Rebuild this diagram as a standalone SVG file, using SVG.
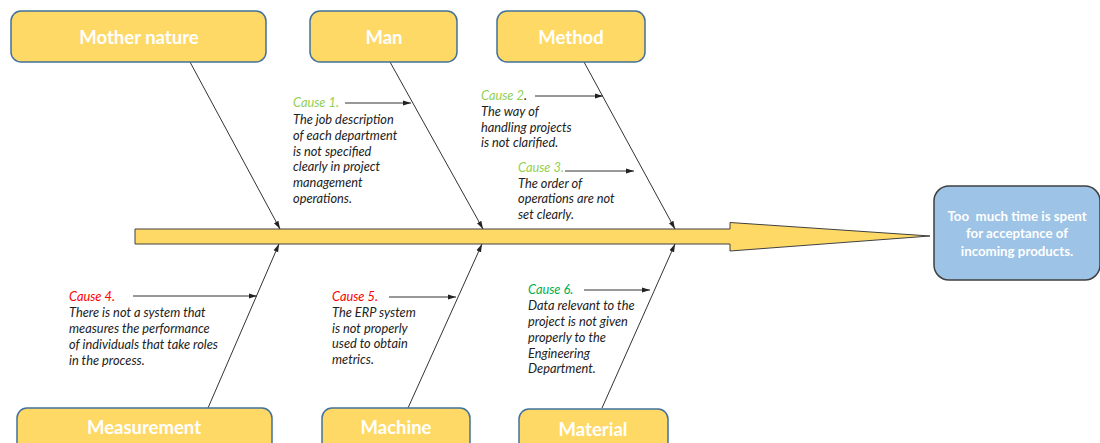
<svg xmlns="http://www.w3.org/2000/svg" width="1100" height="443" viewBox="0 0 1100 443">
<defs>
<style>
.cat{fill:#FFD966;stroke:#41719C;stroke-width:1.5}
.catt{font-family:Lato,"Open Sans",sans-serif;font-weight:bold;font-size:18.5px;fill:#fff;text-anchor:middle;dominant-baseline:central}
.eff{fill:#9DC3E6;stroke:#404040;stroke-width:1.5}
.efft{font-family:Lato,"Open Sans",sans-serif;font-weight:bold;font-size:13.3px;fill:#fff;text-anchor:middle}
.bone{stroke:#333;stroke-width:1;fill:none;marker-end:url(#ah)}
.ca{stroke:#333;stroke-width:1;fill:none;marker-end:url(#ah)}
.txt{font-family:Lato,"Open Sans",sans-serif;font-style:italic;font-size:12.8px;fill:#222}
.lg{fill:#92D050}.rd{fill:#FF0000}.gr{fill:#00B050}
</style>
<marker id="ah" markerWidth="8" markerHeight="6" refX="8" refY="3" orient="auto" markerUnits="userSpaceOnUse">
<path d="M0,0.5 L8,3 L0,5.5 Z" fill="#222"/>
</marker>
</defs>

<g id="spine">
<path d="M135,229 L730,229 L730,222.5 L930,236 L730,251 L730,244 L135,244 Z" fill="#FFD966" stroke="#404040" stroke-width="1"/>
</g>

<g id="connectors">
<line class="bone" x1="190" y1="62" x2="280" y2="229"/>
<line class="bone" x1="390" y1="62" x2="483" y2="229"/>
<line class="bone" x1="584" y1="62" x2="675" y2="229"/>
<line class="bone" x1="208" y1="408" x2="279" y2="244"/>
<line class="bone" x1="408" y1="408" x2="482" y2="244"/>
<line class="bone" x1="602" y1="408" x2="675" y2="244"/>
<line class="ca" x1="345" y1="103" x2="411" y2="103"/>
<line class="ca" x1="535" y1="96" x2="603" y2="96"/>
<line class="ca" x1="565" y1="171" x2="634" y2="171"/>
<line class="ca" x1="133" y1="296" x2="257" y2="296"/>
<line class="ca" x1="389" y1="297" x2="456" y2="297"/>
<line class="ca" x1="584" y1="290" x2="650" y2="290"/>
</g>

<g id="mother-nature">
<rect class="cat" x="11" y="11" width="255" height="51" rx="10"/>
<text class="catt" x="139" y="37">Mother nature</text>
</g>
<g id="man">
<rect class="cat" x="310" y="11" width="147" height="51" rx="10"/>
<text class="catt" x="384" y="37">Man</text>
</g>
<g id="method">
<rect class="cat" x="497" y="11" width="148" height="51" rx="10"/>
<text class="catt" x="571" y="37">Method</text>
</g>
<g id="measurement">
<rect class="cat" x="17" y="408" width="255" height="51" rx="10"/>
<text class="catt" x="144" y="427">Measurement</text>
</g>
<g id="machine">
<rect class="cat" x="322" y="408" width="148" height="51" rx="10"/>
<text class="catt" x="396" y="427">Machine</text>
</g>
<g id="material">
<rect class="cat" x="519" y="409" width="149" height="51" rx="10"/>
<text class="catt" x="593" y="429">Material</text>
</g>

<g id="effect">
<rect class="eff" x="934" y="186" width="166" height="94" rx="15"/>
<text class="efft" x="1017" y="221" xml:space="preserve">Too  much time is spent</text>
<text class="efft" x="1017" y="238">for acceptance of</text>
<text class="efft" x="1017" y="256">incoming products.</text>
</g>

<g id="cause1">
<text class="txt" x="293" y="107"><tspan class="lg">Cause 1.</tspan></text>
<text class="txt" x="293" y="124">The job description</text>
<text class="txt" x="293" y="140">of each department</text>
<text class="txt" x="293" y="156">is not specified</text>
<text class="txt" x="293" y="171">clearly in project</text>
<text class="txt" x="293" y="187">management</text>
<text class="txt" x="293" y="203">operations.</text>
</g>
<g id="cause2">
<text class="txt" x="481" y="100"><tspan class="lg">Cause 2</tspan>.</text>
<text class="txt" x="481" y="116">The way of</text>
<text class="txt" x="481" y="132">handling projects</text>
<text class="txt" x="481" y="147">is not clarified.</text>
</g>
<g id="cause3">
<text class="txt" x="518" y="172"><tspan class="lg">Cause 3.</tspan></text>
<text class="txt" x="518" y="188">The order of</text>
<text class="txt" x="518" y="203">operations are not</text>
<text class="txt" x="518" y="219">set clearly.</text>
</g>
<g id="cause4">
<text class="txt" x="69" y="301"><tspan class="rd">Cause 4.</tspan></text>
<text class="txt" x="69" y="317">There is not a system that</text>
<text class="txt" x="69" y="333">measures the performance</text>
<text class="txt" x="69" y="349">of individuals that take roles</text>
<text class="txt" x="69" y="365">in the process.</text>
</g>
<g id="cause5">
<text class="txt" x="332" y="301"><tspan class="rd">Cause 5.</tspan></text>
<text class="txt" x="332" y="317">The ERP system</text>
<text class="txt" x="332" y="333">is not properly</text>
<text class="txt" x="332" y="348">used to obtain</text>
<text class="txt" x="332" y="364">metrics.</text>
</g>
<g id="cause6">
<text class="txt" x="528" y="294"><tspan class="gr">Cause 6.</tspan></text>
<text class="txt" x="528" y="310">Data relevant to the</text>
<text class="txt" x="528" y="326">project is not given</text>
<text class="txt" x="528" y="342">properly to the</text>
<text class="txt" x="528" y="358">Engineering</text>
<text class="txt" x="528" y="373">Department.</text>
</g>
</svg>
